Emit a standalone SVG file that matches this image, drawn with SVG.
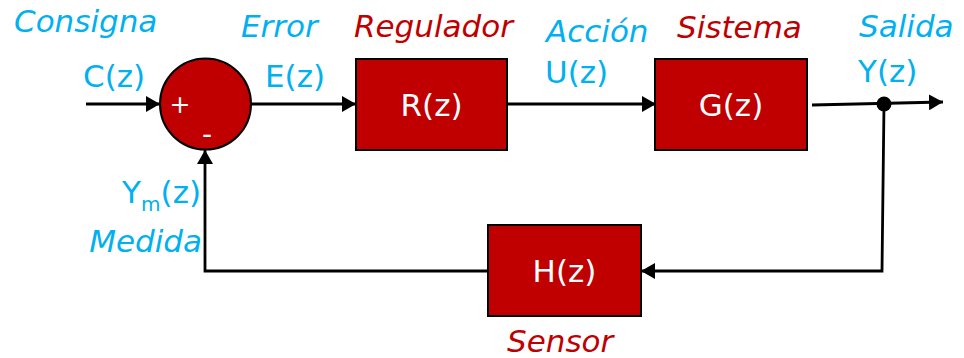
<svg xmlns="http://www.w3.org/2000/svg" width="964" height="358" viewBox="0 0 964 358">
<style>
.t{font-family:"DejaVu Sans","Verdana",sans-serif;font-size:31px}
.i{font-style:italic}
.c{fill:#00B0F0}
.r{fill:#C00000}
.w{fill:#FFFFFF}
.blk{fill:#C00000;stroke:#000;stroke-width:2}
.ln{fill:none;stroke:#000;stroke-width:2.8}
</style>
<defs>
<marker id="ah" markerUnits="userSpaceOnUse" markerWidth="16" markerHeight="16" refX="14" refY="8" orient="auto">
<path d="M0,0 L14,8 L0,16 Z" fill="#000"/>
</marker>
</defs>
<rect width="964" height="358" fill="#fff"/>
<g id="connectors">
<line class="ln" x1="86" y1="104" x2="160" y2="104" marker-end="url(#ah)"/>
<line class="ln" x1="251" y1="104" x2="356" y2="104" marker-end="url(#ah)"/>
<line class="ln" x1="507" y1="104" x2="656" y2="104" marker-end="url(#ah)"/>
<line class="ln" x1="812" y1="105" x2="943" y2="102" marker-end="url(#ah)"/>
<polyline class="ln" points="884,104 882,271 641,271" marker-end="url(#ah)"/>
<polyline class="ln" points="488,271 205,271 205,150" marker-end="url(#ah)"/>
<circle cx="884" cy="104" r="7.5" fill="#000"/>
</g>
<g id="sum">
<circle cx="205.5" cy="104" r="45.5" class="blk"/>
<text class="t w" x="180" y="113" text-anchor="middle" style="font-size:25px">+</text>
<text class="t w" x="207" y="144" text-anchor="middle" style="font-size:28px">-</text>
</g>
<g id="regulador">
<rect class="blk" x="356" y="59" width="151" height="91"/>
<text class="t w" x="431.5" y="116" text-anchor="middle">R(z)</text>
</g>
<g id="sistema">
<rect class="blk" x="655" y="59" width="152" height="91"/>
<text class="t w" x="731" y="116" text-anchor="middle">G(z)</text>
</g>
<g id="sensor">
<rect class="blk" x="488" y="225" width="153" height="91"/>
<text class="t w" x="564.5" y="282" text-anchor="middle">H(z)</text>
</g>
<g id="labels">
<text class="t i c" x="14" y="32">Consigna</text>
<text class="t c" x="83" y="87">C(z)</text>
<text class="t i c" x="241" y="37">Error</text>
<text class="t c" x="265" y="87">E(z)</text>
<text class="t i r" x="354" y="37">Regulador</text>
<text class="t i c" x="546" y="42">Acción</text>
<text class="t c" x="545" y="83">U(z)</text>
<text class="t i r" x="677" y="38">Sistema</text>
<text class="t i c" x="859" y="37">Salida</text>
<text class="t c" x="858" y="82">Y(z)</text>
<text class="t c" x="201" y="203" text-anchor="end">Y<tspan style="font-size:20px" dy="8">m</tspan><tspan dy="-8">(z)</tspan></text>
<text class="t i c" x="202" y="252" text-anchor="end">Medida</text>
<text class="t i r" x="507" y="352">Sensor</text>
</g>
</svg>
